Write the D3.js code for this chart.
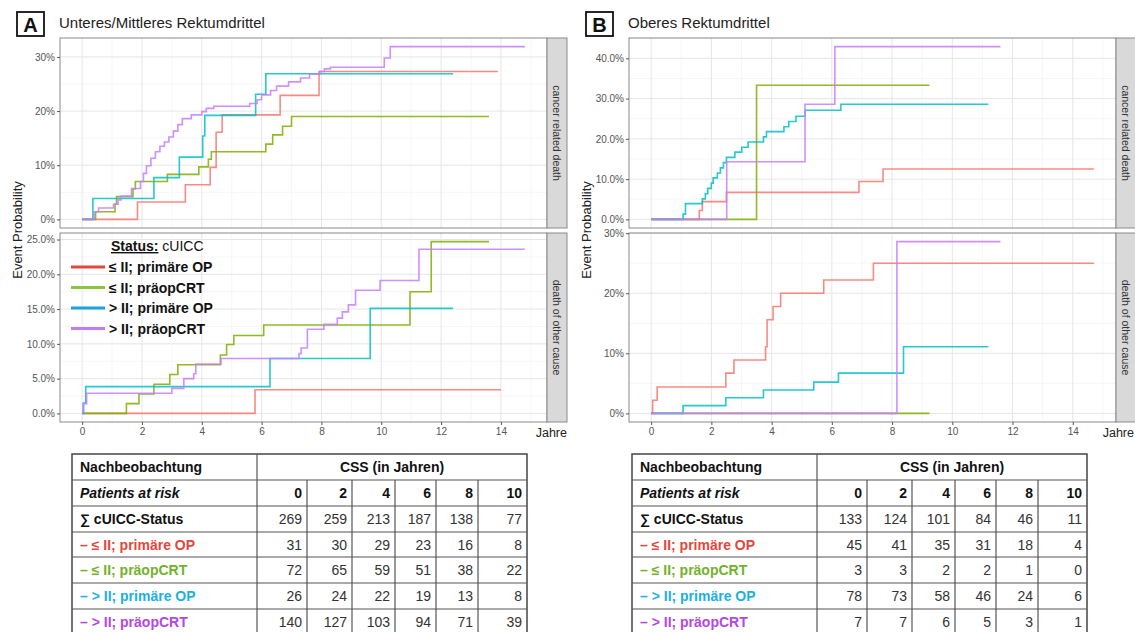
<!DOCTYPE html>
<html lang="de">
<head>
<meta charset="utf-8">
<title>CSS Rektumdrittel</title>
<script src="https://cdn.jsdelivr.net/npm/d3@7"></script>
<style>
  body { margin: 0; background: #fff; }
  svg { font-family: "Liberation Sans", Arial, sans-serif; }
</style>
</head>
<body>
<script>

var width = 1135;
var height = 632;

var groups = ["≤ II; primäre OP", "≤ II; präopCRT", "> II; primäre OP", "> II; präopCRT"];
var lineColors = ["#f8766d", "#7cae00", "#00bfc4", "#c77cff"];
var legendColors = ["#e8453c", "#8cc63e", "#1aa6d8", "#c27cf4"];
var tableColors = ["#e8453c", "#72b22a", "#1cb0e3", "#b448de"];

var xTicks = [0, 2, 4, 6, 8, 10, 12, 14];
var riskYears = [0, 2, 4, 6, 8, 10];

// step curves, [years, event probability in %]
// A – cancer related death
var aCancerRed = [[0,0],[1.85,3.2],[3.45,6.4],[4.28,9.6],[4.48,16.1],[4.68,19.3],[6.62,22.9],[7.92,27.3],[13.9,27.3]];
var aCancerGreen = [[0,0],[0.45,1.4],[1.1,2.8],[1.15,4.2],[1.7,5.6],[1.78,7.0],[2.85,8.3],[3.9,9.7],[4.22,11.1],[4.32,12.5],[6.14,13.9],[6.37,15.6],[6.7,17.2],[7.0,19.0],[13.6,19.0]];
var aCancerCyan = [[0,0],[0.36,3.85],[2.4,7.7],[3.25,11.5],[4.03,15.4],[4.1,19.2],[5.8,23.1],[6.14,26.9],[12.4,26.9]];
var aCancerPurple = [[0,0],[0.4,1.4],[0.55,2.1],[1.05,2.8],[1.2,3.6],[1.3,4.3],[1.65,5.7],[1.95,7.0],[2.05,8.5],[2.15,9.9],[2.3,11.3],[2.45,12.5],[2.6,13.5],[2.75,14.3],[2.9,15.2],[3.05,16.3],[3.2,17.5],[3.35,18.6],[3.65,19.3],[4.0,19.9],[4.15,20.5],[4.4,20.9],[5.6,21.4],[5.85,22.1],[6.0,23.0],[6.3,23.8],[6.5,24.6],[6.9,25.4],[7.3,26.1],[7.6,26.8],[7.95,27.3],[8.1,27.8],[8.3,28.1],[10.1,29.8],[10.3,31.9],[14.8,31.9]];

// A – death of other cause
var aOtherRed = [[0,0],[5.78,3.4],[14.0,3.4]];
var aOtherGreen = [[0,0],[1.48,1.4],[1.9,2.8],[2.4,4.2],[2.93,5.6],[3.2,7.0],[4.62,8.4],[4.83,9.9],[5.07,11.2],[6.07,12.7],[10.96,17.5],[11.67,24.7],[13.6,24.7]];
var aOtherCyan = [[0,0],[0.05,1.5],[0.12,3.85],[6.28,7.9],[9.63,15.1],[12.4,15.1]];
var aOtherPurple = [[0,0],[0.03,1.4],[0.15,2.9],[3.0,3.6],[3.4,5.0],[3.73,5.7],[3.8,7.1],[4.64,7.9],[7.25,8.6],[7.32,9.4],[7.53,12.1],[8.08,12.8],[8.53,13.7],[8.7,14.6],[8.9,15.6],[9.14,17.7],[9.96,19.1],[11.26,23.6],[14.8,23.6]];

// B – cancer related death
var bCancerRed = [[0,0],[1.6,2.2],[1.7,4.4],[2.5,6.7],[6.9,9.4],[7.7,12.5],[14.7,12.5]];
var bCancerGreen = [[0,0],[3.5,33.3],[9.24,33.3]];
var bCancerCyan = [[0,0],[1.06,1.3],[1.14,3.9],[1.7,5.1],[1.8,6.4],[1.88,7.7],[2.0,9.0],[2.06,10.3],[2.2,11.5],[2.3,12.8],[2.4,14.1],[2.5,15.4],[2.78,16.7],[3.01,17.9],[3.22,19.2],[3.73,20.5],[3.83,21.8],[4.41,23.0],[4.57,24.3],[4.81,25.6],[5.11,27.1],[6.3,28.6],[11.2,28.6]];
var bCancerPurple = [[0,0],[2.51,14.3],[5.11,28.6],[6.1,42.9],[11.6,42.9]];

// B – death of other cause
var bOtherRed = [[0,0],[0.05,2.2],[0.2,4.4],[2.48,6.7],[2.75,8.9],[3.8,11.1],[3.85,15.6],[4.05,17.8],[4.3,20.0],[5.73,22.2],[7.38,25.0],[14.7,25.0]];
var bOtherGreen = [[0,0],[9.24,0]];
var bOtherCyan = [[0,0],[1.06,1.3],[2.48,2.6],[3.73,3.9],[5.4,5.2],[6.22,6.7],[8.38,11.1],[11.2,11.1]];
var bOtherPurple = [[0,0],[8.16,28.6],[11.6,28.6]];

var yTicksACancer = [0, 10, 20, 30];
var yTicksAOther = [0, 5, 10, 15, 20, 25];
var yTicksBCancer = [0, 10, 20, 30, 40];
var yTicksBOther = [0, 10, 20, 30];

var facetLabels = ["cancer related death", "death of other cause"];

// patients at risk
var riskA = [[269,259,213,187,138,77],[31,30,29,23,16,8],[72,65,59,51,38,22],[26,24,22,19,13,8],[140,127,103,94,71,39]];
var riskB = [[133,124,101,84,46,11],[45,41,35,31,18,4],[3,3,2,2,1,0],[78,73,58,46,24,6],[7,7,6,5,3,1]];

var svg = d3.select("body").append("svg")
            .attr("width", width)
            .attr("height", height);

var plots = [
  { letter: "A", title: "Unteres/Mittleres Rektumdrittel", left: 60,
    facets: [
      { series: [aCancerRed, aCancerGreen, aCancerCyan, aCancerPurple], ticks: yTicksACancer, fmt: function(d) { return d + "%"; } },
      { series: [aOtherRed, aOtherGreen, aOtherCyan, aOtherPurple], ticks: yTicksAOther, fmt: function(d) { return d.toFixed(1) + "%"; } }
    ],
    risk: riskA, tableLeft: 72 },
  { letter: "B", title: "Oberes Rektumdrittel", left: 629,
    facets: [
      { series: [bCancerRed, bCancerGreen, bCancerCyan, bCancerPurple], ticks: yTicksBCancer, fmt: function(d) { return d.toFixed(1) + "%"; } },
      { series: [bOtherRed, bOtherGreen, bOtherCyan, bOtherPurple], ticks: yTicksBOther, fmt: function(d) { return d + "%"; } }
    ],
    risk: riskB, tableLeft: 632 }
];

var panelW = 487;
var stripW = 20;
var panelTops = [38, 233];
var panelH = [190, 189];

function expand(lo, hi) {
  var e = (hi - lo) * 0.05;
  return [lo - e, hi + e];
}

var line = d3.line().curve(d3.curveStepAfter);

plots.forEach(function(p) {
  var g = svg.append("g");

  // header
  g.append("rect")
   .attr("x", p.left - 43).attr("y", 12)
   .attr("width", 27).attr("height", 24)
   .attr("fill", "none").attr("stroke", "#111").attr("stroke-width", 1.8);
  g.append("text")
   .attr("x", p.left - 29.5).attr("y", 31.5)
   .attr("text-anchor", "middle")
   .attr("font-size", 20).attr("font-weight", "bold").attr("fill", "#111")
   .text(p.letter);
  g.append("text")
   .attr("x", p.left - 1).attr("y", 28)
   .attr("font-size", 15).attr("fill", "#222")
   .text(p.title);

  var xmax = d3.max(p.facets, function(f) { return d3.max(f.series, function(s) { return s[s.length - 1][0]; }); });
  var x = d3.scaleLinear().domain(expand(0, xmax)).range([p.left, p.left + panelW]);

  p.facets.forEach(function(f, fi) {
    var top = panelTops[fi];
    var bottom = top + panelH[fi];
    var ymax = d3.max(f.series, function(s) { return d3.max(s, function(d) { return d[1]; }); });
    var y = d3.scaleLinear().domain(expand(0, ymax)).range([bottom, top]);
    line.x(function(d) { return x(d[0]); }).y(function(d) { return y(d[1]); });

    var fg = g.append("g");
    fg.append("rect")
      .attr("x", p.left).attr("y", top)
      .attr("width", panelW).attr("height", panelH[fi])
      .attr("fill", "#fff");

    // minor grid
    var step = f.ticks[1] - f.ticks[0];
    var yMinor = d3.range(f.ticks[0] - step / 2, ymax * 1.05 + step, step)
                   .filter(function(v) { return v > y.domain()[0] && v < y.domain()[1]; });
    var xMinor = d3.range(-1, 17, 2).filter(function(v) { return v > x.domain()[0] && v < x.domain()[1]; });
    fg.selectAll(".ymin").data(yMinor).enter().append("line")
      .attr("x1", p.left).attr("x2", p.left + panelW)
      .attr("y1", function(d) { return y(d); }).attr("y2", function(d) { return y(d); })
      .attr("stroke", "#f4f4f4").attr("stroke-width", 0.8);
    fg.selectAll(".xmin").data(xMinor).enter().append("line")
      .attr("y1", top).attr("y2", bottom)
      .attr("x1", function(d) { return x(d); }).attr("x2", function(d) { return x(d); })
      .attr("stroke", "#f4f4f4").attr("stroke-width", 0.8);
    // major grid
    fg.selectAll(".ymaj").data(f.ticks).enter().append("line")
      .attr("x1", p.left).attr("x2", p.left + panelW)
      .attr("y1", function(d) { return y(d); }).attr("y2", function(d) { return y(d); })
      .attr("stroke", "#e6e6e6").attr("stroke-width", 1);
    fg.selectAll(".xmaj").data(xTicks).enter().append("line")
      .attr("y1", top).attr("y2", bottom)
      .attr("x1", function(d) { return x(d); }).attr("x2", function(d) { return x(d); })
      .attr("stroke", "#e6e6e6").attr("stroke-width", 1);

    // curves
    fg.selectAll(".curve").data(f.series).enter().append("path")
      .attr("d", function(d) { return line(d); })
      .attr("fill", "none")
      .attr("stroke", function(d, i) { return lineColors[i]; })
      .attr("stroke-width", 1.6)
      .attr("stroke-opacity", 0.85);

    fg.append("rect")
      .attr("x", p.left).attr("y", top)
      .attr("width", panelW).attr("height", panelH[fi])
      .attr("fill", "none").attr("stroke", "#8a8a8a").attr("stroke-width", 1);

    // y axis
    var yAxis = d3.axisLeft(y).tickValues(f.ticks).tickFormat(f.fmt).tickSize(3).tickPadding(2);
    var ya = fg.append("g").attr("transform", "translate(" + p.left + ",0)").call(yAxis);
    ya.select(".domain").remove();
    ya.selectAll("line").attr("stroke", "#555");
    ya.selectAll("text").attr("font-size", 10).attr("fill", "#555").attr("font-family", null);

    // strip
    fg.append("rect")
      .attr("x", p.left + panelW).attr("y", top)
      .attr("width", stripW).attr("height", panelH[fi])
      .attr("fill", "#d9d9d9").attr("stroke", "#8a8a8a").attr("stroke-width", 1);
    fg.append("text")
      .attr("transform", "translate(" + (p.left + panelW + stripW / 2 - 3.8) + "," + (top + panelH[fi] / 2) + ") rotate(90)")
      .attr("text-anchor", "middle")
      .attr("font-size", 10.5).attr("fill", "#333")
      .text(facetLabels[fi]);

    if (fi === 1) {
      var xAxis = d3.axisBottom(x).tickValues(xTicks).tickSize(3).tickPadding(3);
      var xa = fg.append("g").attr("transform", "translate(0," + bottom + ")").call(xAxis);
      xa.select(".domain").remove();
      xa.selectAll("line").attr("stroke", "#555");
      xa.selectAll("text").attr("font-size", 10).attr("fill", "#555").attr("font-family", null);
    }
  });

  g.append("text")
   .attr("x", Math.min(p.left + panelW + stripW, width - 1)).attr("y", 437)
   .attr("text-anchor", "end")
   .attr("font-size", 12.5).attr("fill", "#222")
   .text("Jahre");

  g.append("text")
   .attr("transform", "translate(" + (p.left - 38) + ",230) rotate(-90)")
   .attr("text-anchor", "middle")
   .attr("font-size", 13).attr("fill", "#222")
   .text("Event Probability");

  // patients at risk table
  var colEdges = [0, 185, 235, 280, 323, 364, 406, 455];
  var rowEdges = [0, 26, 52, 78, 103, 129, 155, 181];
  var tg = g.append("g").attr("transform", "translate(" + p.tableLeft + ",454)");
  tg.append("rect").attr("width", colEdges[7]).attr("height", rowEdges[7])
    .attr("fill", "#fff").attr("stroke", "#444").attr("stroke-width", 1.5);
  tg.selectAll(".hl").data(rowEdges.slice(1, 7)).enter().append("line")
    .attr("x1", 0).attr("x2", colEdges[7])
    .attr("y1", function(d) { return d; }).attr("y2", function(d) { return d; })
    .attr("stroke", "#555").attr("stroke-width", 1.2);
  tg.append("line").attr("x1", colEdges[1]).attr("x2", colEdges[1])
    .attr("y1", 0).attr("y2", rowEdges[7]).attr("stroke", "#555").attr("stroke-width", 1.2);
  tg.selectAll(".vl").data(colEdges.slice(2, 7)).enter().append("line")
    .attr("x1", function(d) { return d; }).attr("x2", function(d) { return d; })
    .attr("y1", rowEdges[1]).attr("y2", rowEdges[7])
    .attr("stroke", "#555").attr("stroke-width", 1.2);

  function rowBase(r) { return (rowEdges[r] + rowEdges[r + 1]) / 2 + 5; }

  tg.append("text").attr("x", 8).attr("y", rowBase(0))
    .attr("font-size", 14).attr("font-weight", "bold").attr("fill", "#111")
    .text("Nachbeobachtung");
  tg.append("text").attr("x", (colEdges[1] + colEdges[7]) / 2).attr("y", rowBase(0))
    .attr("text-anchor", "middle")
    .attr("font-size", 14).attr("font-weight", "bold").attr("fill", "#111")
    .text("CSS (in Jahren)");
  tg.append("text").attr("x", 8).attr("y", rowBase(1))
    .attr("font-size", 14).attr("font-weight", "bold").attr("font-style", "italic").attr("fill", "#111")
    .text("Patients at risk");
  tg.selectAll(".yr").data(riskYears).enter().append("text")
    .attr("x", function(d, i) { return colEdges[i + 2] - 5; })
    .attr("y", rowBase(1))
    .attr("text-anchor", "end")
    .attr("font-size", 14).attr("font-weight", "bold").attr("fill", "#111")
    .text(function(d) { return d; });

  var rowLabels = ["∑ cUICC-Status"].concat(groups.map(function(s) { return "– " + s; }));
  var rowColors = ["#111"].concat(tableColors);
  p.risk.forEach(function(vals, r) {
    tg.append("text").attr("x", 8).attr("y", rowBase(r + 2))
      .attr("font-size", 14).attr("font-weight", "bold").attr("fill", rowColors[r])
      .text(rowLabels[r]);
    tg.selectAll(".v" + r).data(vals).enter().append("text")
      .attr("x", function(d, i) { return colEdges[i + 2] - 5; })
      .attr("y", rowBase(r + 2))
      .attr("text-anchor", "end")
      .attr("font-size", 14).attr("fill", "#333")
      .text(function(d) { return d; });
  });
});

// legend inside panel A, lower facet
var legend = svg.append("g").attr("transform", "translate(71,246)");
var lt = legend.append("text").attr("x", 40).attr("y", 5)
               .attr("font-size", 14).attr("fill", "#111");
lt.append("tspan").attr("font-weight", "bold").attr("text-decoration", "underline").text("Status:");
lt.append("tspan").text(" cUICC");
var items = legend.selectAll(".item").data(groups).enter().append("g")
                  .attr("transform", function(d, i) { return "translate(0," + (21 + i * 20.5) + ")"; });
items.append("line").attr("x1", 0).attr("x2", 34)
     .attr("stroke", function(d, i) { return legendColors[i]; })
     .attr("stroke-width", 3.2);
items.append("text").attr("x", 38).attr("y", 5)
     .attr("font-size", 14).attr("font-weight", "bold").attr("fill", "#111")
     .text(function(d) { return d; });

</script>
</body>
</html>
